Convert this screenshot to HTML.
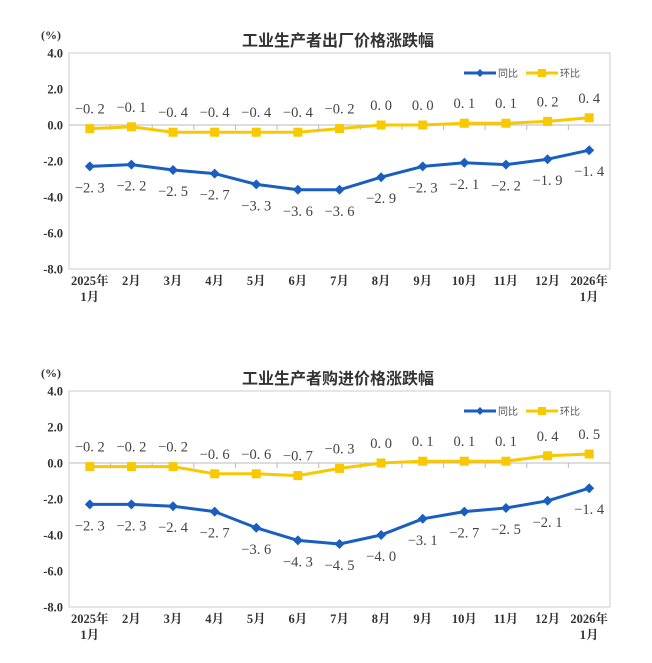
<!DOCTYPE html>
<html><head><meta charset="utf-8"><style>
html,body{margin:0;padding:0;background:#fff;width:652px;height:663px;overflow:hidden}
svg{display:block}
</style></head><body>
<svg id="s" width="652" height="663" xmlns="http://www.w3.org/2000/svg"></svg>
<script>
var s=document.getElementById('s'),h='';
function chart(oy,title,yoy,mom){
  var L=69,R=610,T=oy+53,B=oy+269,z=oy+125,u=18;
  var sf='font-family="Liberation Serif, Noto Serif CJK SC, serif"';
  h+='<text x="338" y="'+(oy+46)+'" text-anchor="middle" font-family="Liberation Sans, Noto Sans CJK SC, sans-serif" font-size="16" font-weight="bold" fill="#333">'+title+'</text>';
  h+='<text x="51" y="'+(oy+39)+'" text-anchor="middle" '+sf+' font-size="12" font-weight="bold" fill="#333">(%)</text>';
  h+='<rect x="'+L+'" y="'+T+'" width="'+(R-L)+'" height="'+(B-T)+'" fill="none" stroke="#ccc" stroke-width="1"/>';
  h+='<line x1="'+L+'" y1="'+z+'" x2="'+R+'" y2="'+z+'" stroke="#bbb"/>';
  var w=(R-L)/13;
  for(var k=1;k<13;k++){var tx=L+w*k;h+='<line x1="'+tx+'" y1="'+z+'" x2="'+tx+'" y2="'+(z+5)+'" stroke="#bbb"/>';}
  for(var v=4;v>=-8;v-=2){var y=z-v*u;h+='<text x="63" y="'+(y+4.5)+'" text-anchor="end" '+sf+' font-size="12.5" font-weight="bold" fill="#333">'+v.toFixed(1)+'</text>';}
  var labs=['2025年','2月','3月','4月','5月','6月','7月','8月','9月','10月','11月','12月','2026年'];
  for(var i=0;i<13;i++){var x=L+w*(i+.5);h+='<text x="'+x+'" y="'+(oy+285)+'" text-anchor="middle" '+sf+' font-size="12.5" font-weight="bold" fill="#333">'+labs[i]+'</text>';
    if(i==0||i==12)h+='<text x="'+x+'" y="'+(oy+301)+'" text-anchor="middle" '+sf+' font-size="12.5" font-weight="bold" fill="#333">1月</text>';}
  function ser(d,c,mk,dy){var p='';for(var i=0;i<13;i++){p+=(i?'L':'M')+(L+w*(i+.5))+' '+(z-d[i]*u);}
    h+='<path d="'+p+'" fill="none" stroke="'+c+'" stroke-width="3" stroke-linejoin="round"/>';
    for(var i=0;i<13;i++){var x=L+w*(i+.5),y=z-d[i]*u;
      if(mk=='d')h+='<path d="M'+x+' '+(y-5)+'L'+(x+5)+' '+y+'L'+x+' '+(y+5)+'L'+(x-5)+' '+y+'Z" fill="'+c+'"/>';
      else h+='<rect x="'+(x-4.5)+'" y="'+(y-4.5)+'" width="9" height="9" fill="'+c+'"/>';
      var t=(d[i]<0?'−':'')+Math.abs(d[i]).toFixed(1).replace('.','. ');
      h+='<text x="'+x+'" y="'+(y+dy)+'" text-anchor="middle" '+sf+' font-size="14.5" fill="#444">'+t+'</text>';}}
  ser(mom,'#f8c800','s',-15);
  ser(yoy,'#1a5fc0','d',26);
  var ly=oy+73;
  h+='<line x1="464" y1="'+ly+'" x2="496" y2="'+ly+'" stroke="#1a5fc0" stroke-width="3"/><path d="M480 '+(ly-4)+'L484 '+ly+'L480 '+(ly+4)+'L476 '+ly+'Z" fill="#1a5fc0"/>';
  h+='<text x="498" y="'+(ly+4)+'" font-family="Noto Sans CJK SC, sans-serif" font-size="10" fill="#555">同比</text>';
  h+='<line x1="526" y1="'+ly+'" x2="558" y2="'+ly+'" stroke="#f8c800" stroke-width="3"/><rect x="538" y="'+(ly-4)+'" width="8" height="8" fill="#f8c800"/>';
  h+='<text x="560" y="'+(ly+4)+'" font-family="Noto Sans CJK SC, sans-serif" font-size="10" fill="#555">环比</text>';
}
chart(0,'工业生产者出厂价格涨跌幅',[-2.3,-2.2,-2.5,-2.7,-3.3,-3.6,-3.6,-2.9,-2.3,-2.1,-2.2,-1.9,-1.4],[-0.2,-0.1,-0.4,-0.4,-0.4,-0.4,-0.2,0,0,0.1,0.1,0.2,0.4]);
chart(338,'工业生产者购进价格涨跌幅',[-2.3,-2.3,-2.4,-2.7,-3.6,-4.3,-4.5,-4.0,-3.1,-2.7,-2.5,-2.1,-1.4],[-0.2,-0.2,-0.2,-0.6,-0.6,-0.7,-0.3,0,0.1,0.1,0.1,0.4,0.5]);
s.innerHTML=h;
</script>
</body></html>
